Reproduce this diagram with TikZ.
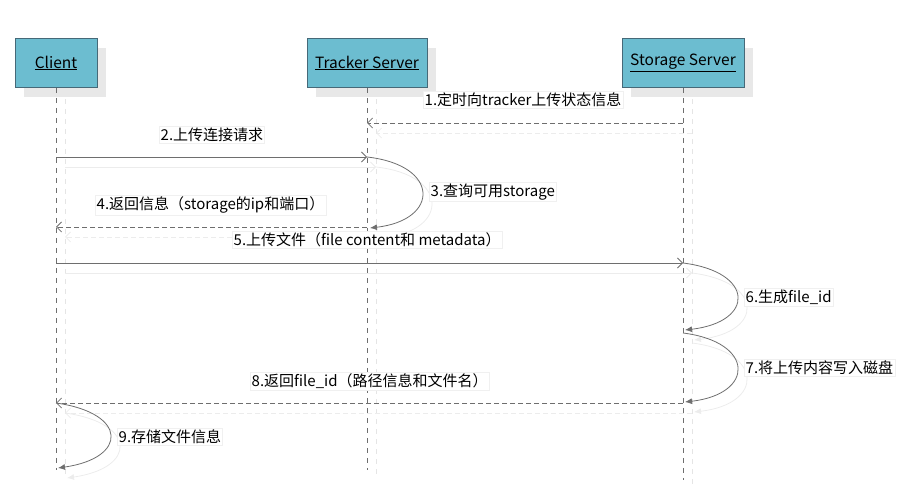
\documentclass[tikz,border=0pt]{standalone}
\usepackage{fontspec}
\setmainfont{Noto Sans CJK SC}
\usetikzlibrary{arrows.meta}
\definecolor{boxfill}{RGB}{108,189,208}
\definecolor{boxline}{RGB}{70,105,120}
\definecolor{lineg}{RGB}{110,110,110}
\tikzset{
  actor/.style={draw=boxline, fill=boxfill, line width=0.8pt, minimum height=49pt, inner sep=0pt, font=\fontsize{15.5}{18}\selectfont},
  actorshadow/.style={fill=gray!18, draw=none, minimum height=49pt, inner sep=0pt},
  life/.style={draw=lineg, line width=0.8pt, dash pattern=on 5pt off 5pt},
  lifeshadow/.style={draw=gray!20, line width=0.8pt, dash pattern=on 5pt off 5pt},
  msg/.style={draw=lineg, line width=0.8pt, -{Straight Barb[length=5pt,width=10pt]}},
  msgshadow/.style={draw=gray!15, line width=0.8pt, -{Straight Barb[length=5pt,width=10pt]}},
  ret/.style={msg, dash pattern=on 5pt off 3pt},
  retshadow/.style={msgshadow, dash pattern=on 5pt off 3pt},
  self/.style={draw=lineg, line width=0.8pt, -{Latex[length=7pt,width=6pt]}},
  selfshadow/.style={draw=gray!15, line width=0.8pt, -{Latex[length=7pt,width=6pt]}},
  lbl/.style={draw=gray!12, fill=white, inner sep=1.5pt, anchor=west, font=\fontsize{15}{17}\selectfont}
}
\begin{document}
\begin{tikzpicture}[x=1pt,y=-1pt]
\useasboundingbox (0,0) rectangle (911,494);
% shadows of actors
\node[actorshadow, minimum width=82pt] at (65,73) {};
\node[actorshadow, minimum width=120pt] at (376,73) {};
\node[actorshadow, minimum width=122pt] at (692,73) {};
% lifeline shadows
\draw[lifeshadow] (65,99) -- (65,478);
\draw[lifeshadow] (376,99) -- (376,478);
\draw[lifeshadow] (692,99) -- (692,488);
% actors
\node[actor, minimum width=82pt] (client) at (56,63) {\underline{Client}};
\node[actor, minimum width=120pt] (tracker) at (367,63) {\underline{Tracker Server}};
\node[actor, minimum width=122pt] (storage) at (683,63) {\underline{Storage Server}};
% lifeline ends
\coordinate (clientend) at (56,470);
\coordinate (trackerend) at (367,470);
\coordinate (storageend) at (683,480);
% message coordinates
\coordinate (s1) at (683,123); \coordinate (t1) at (367,123);
\coordinate (c2) at (56,157);  \coordinate (t2) at (367,157);
\coordinate (t3) at (370,228);
\coordinate (t4) at (367,227); \coordinate (c4) at (56,227);
\coordinate (c5) at (56,263);  \coordinate (s5) at (683,263);
\coordinate (s6) at (685,330);
\coordinate (s7a) at (683,333); \coordinate (s7) at (685,402);
\coordinate (s8) at (683,403); \coordinate (c8) at (56,403);
\coordinate (c9) at (58,468);
% message shadows
\draw[retshadow] ([shift={(9,10)}]s1) -- ([shift={(9,10)}]t1);
\draw[msgshadow] ([shift={(9,10)}]c2) -- ([shift={(9,10)}]t2);
\draw[selfshadow] ([shift={(9,10)}]t2) .. controls ([shift={(9,10)}]440,165) and ([shift={(9,10)}]440,220) .. ([shift={(9,10)}]t3);
\draw[retshadow] ([shift={(9,10)}]t4) -- ([shift={(9,10)}]c4);
\draw[msgshadow] ([shift={(9,10)}]c5) -- ([shift={(9,10)}]s5);
\draw[selfshadow] ([shift={(9,10)}]s5) .. controls ([shift={(9,10)}]755,272) and ([shift={(9,10)}]755,322) .. ([shift={(9,10)}]s6);
\draw[selfshadow] ([shift={(9,10)}]s7a) .. controls ([shift={(9,10)}]755,342) and ([shift={(9,10)}]755,394) .. ([shift={(9,10)}]s7);
\draw[retshadow] ([shift={(9,10)}]s8) -- ([shift={(9,10)}]c8);
\draw[selfshadow] ([shift={(9,10)}]c8) .. controls ([shift={(9,10)}]128,413) and ([shift={(9,10)}]128,458) .. ([shift={(9,10)}]c9);
% lifelines
\draw[life] (client.south) -- (clientend);
\draw[life] (tracker.south) -- (trackerend);
\draw[life] (storage.south) -- (storageend);
% messages
\draw[ret] (s1) -- (t1);
\draw[msg] (c2) -- (t2);
\draw[self] (t2) .. controls (440,165) and (440,220) .. (t3);
\draw[ret] (t4) -- (c4);
\draw[msg] (c5) -- (s5);
\draw[self] (s5) .. controls (755,272) and (755,322) .. (s6);
\draw[self] (s7a) .. controls (755,342) and (755,394) .. (s7);
\draw[ret] (s8) -- (c8);
\draw[self] (c8) .. controls (128,413) and (128,458) .. (c9);
% labels
\node[lbl] (l1) at (423,100) {1.定时向tracker上传状态信息};
\node[lbl] (l2) at (159,135) {2.上传连接请求};
\node[lbl] (l3) at (429,192) {3.查询可用storage};
\node[lbl] (l4) at (95,205) {4.返回信息（storage的ip和端口）};
\node[lbl] (l5) at (232,240) {5.上传文件（file content和 metadata）};
\node[lbl] (l6) at (744,297) {6.生成file\_id};
\node[lbl] (l7) at (744,368) {7.将上传内容写入磁盘};
\node[lbl] (l8) at (250,381) {8.返回file\_id（路径信息和文件名）};
\node[lbl] (l9) at (117,437) {9.存储文件信息};
\end{tikzpicture}
\end{document}
